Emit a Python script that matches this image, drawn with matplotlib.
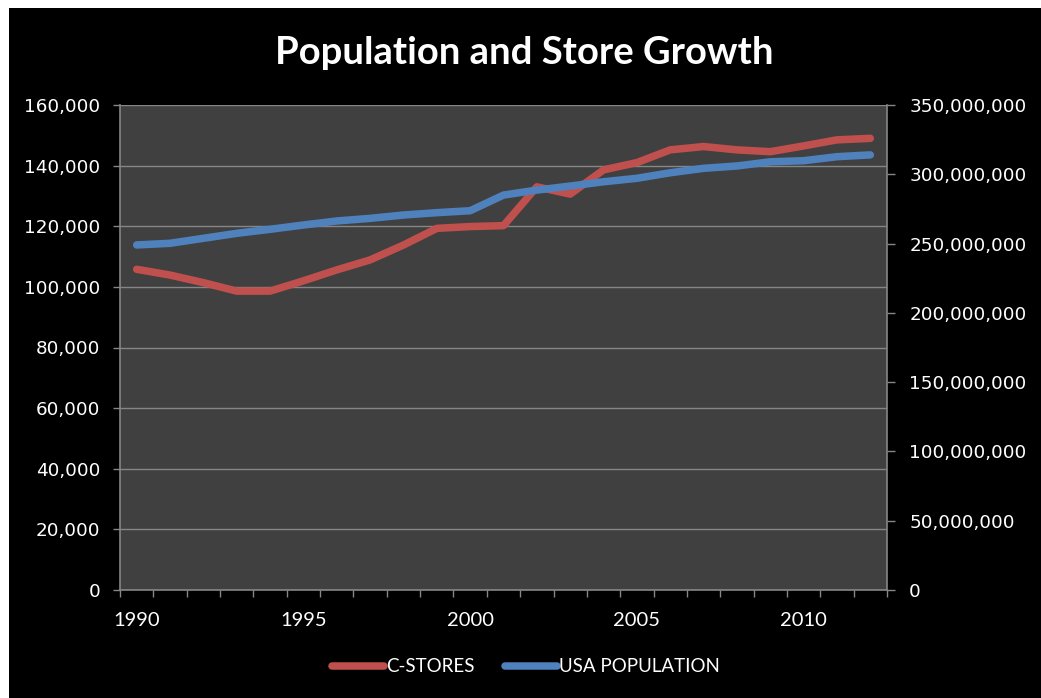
import matplotlib
matplotlib.use("Agg")
import matplotlib.pyplot as plt
from matplotlib.patches import Rectangle
from matplotlib.lines import Line2D
from matplotlib.ticker import FuncFormatter, FixedLocator, NullFormatter

# Data
years = list(range(1990, 2013))
c_stores = [105800, 103900, 101400, 98600, 98600, 102000, 105600, 108900, 113800,
            119300, 119900, 120200, 133000, 130600, 138600, 141000, 145200, 146300,
            145200, 144600, 146500, 148500, 149000]
usa_population = [249.0e6, 250.2e6, 253.8e6, 257.4e6, 260.3e6, 263.4e6, 266.3e6, 268.2e6,
                  270.6e6, 272.3e6, 273.7e6, 285.0e6, 288.6e6, 291.5e6, 294.6e6, 297.1e6,
                  301.1e6, 304.3e6, 306.0e6, 309.0e6, 309.8e6, 312.7e6, 314.0e6]
year_labels = ["1990", "1995", "2000", "2005", "2010"]
left_ticks = list(range(0, 160001, 20000))
right_ticks = list(range(0, 350000001, 50000000))

RED = "#C0504D"
BLUE = "#4F81BD"
GRID = "#868686"
PLOT_BG = "#404040"

W, H = 1041, 698
fig = plt.figure(figsize=(W / 100, H / 100), dpi=100, facecolor="white")
# black chart area behind everything
bg = Rectangle((9 / W, 0), 1 - 9 / W, (H - 8) / H, transform=fig.transFigure,
               facecolor="black", edgecolor="none", zorder=-10)
fig.add_artist(bg)

left, right, top, bottom = 120, 887, 105, 590
ax = fig.add_axes([left / W, (H - bottom) / H, (right - left) / W, (bottom - top) / H])
ax.set_facecolor(PLOT_BG)

x = list(range(len(years)))
ax.plot(x, c_stores, color=RED, lw=5.4, solid_capstyle="round",
        solid_joinstyle="round", zorder=3)
ax.set_xlim(-0.5, len(years) - 0.5)
ax.set_ylim(0, 160000)
ax.set_yticks(left_ticks)
ax.yaxis.set_major_formatter(FuncFormatter(lambda v, p: f"{int(v):,}"))
ax.grid(axis="y", color=GRID, lw=1.0)
ax.set_axisbelow(True)

# category axis: labels every five years, tick marks between categories
label_pos = [years.index(int(y)) for y in year_labels]
ax.xaxis.set_major_locator(FixedLocator(label_pos))
ax.set_xticklabels(year_labels)
ax.xaxis.set_minor_locator(FixedLocator([i - 0.5 for i in range(len(years) + 1)]))
ax.xaxis.set_minor_formatter(NullFormatter())
ax.tick_params(axis="x", which="major", length=0, pad=16, labelcolor="white",
               labelsize=14.5)
ax.tick_params(axis="x", which="minor", length=5, width=1, color=GRID, direction="out")
for lab in ax.get_xticklabels():
    lab.set_fontfamily("Lato")
ax.tick_params(axis="y", length=5, width=1, color=GRID, pad=9, labelcolor="white",
               labelsize=13.2)
for lab in ax.get_yticklabels():
    lab.set_fontfamily("DejaVu Sans")

for s in ["top", "right"]:
    ax.spines[s].set_visible(False)
for s in ["left", "bottom"]:
    ax.spines[s].set_color(GRID)
    ax.spines[s].set_linewidth(1.2)

ax2 = ax.twinx()
ax2.patch.set_visible(False)
ax2.plot(x, usa_population, color=BLUE, lw=5.4, solid_capstyle="round",
         solid_joinstyle="round", zorder=3)
ax2.set_ylim(0, 350000000)
ax2.set_yticks(right_ticks)
ax2.yaxis.set_major_formatter(FuncFormatter(lambda v, p: f"{int(v):,}"))
ax2.tick_params(axis="y", length=6, width=1, color=GRID, pad=10, labelcolor="white",
                labelsize=13.2)
for lab in ax2.get_yticklabels():
    lab.set_fontfamily("DejaVu Sans")
for s in ["top", "left", "bottom"]:
    ax2.spines[s].set_visible(False)
ax2.spines["right"].set_color(GRID)
ax2.spines["right"].set_linewidth(1.2)

fig.text(524 / W, 1 - 53 / H, "Population and Store Growth", ha="center", va="center",
         color="white", fontsize=27.5, fontweight="bold", fontfamily="Lato")

handles = [Line2D([], [], color=RED, lw=5.4, solid_capstyle="round"),
           Line2D([], [], color=BLUE, lw=5.4, solid_capstyle="round")]
leg = fig.legend(handles, ["C-STORES", "USA POPULATION"], loc="center",
                 bbox_to_anchor=(526 / W, 1 - 667 / H), ncol=2, frameon=False,
                 handlelength=2.8, handletextpad=0.1, columnspacing=1.6,
                 prop={"family": "Lato", "size": 13.5})
for t in leg.get_texts():
    t.set_color("white")

fig.savefig("out.png", dpi=100, facecolor="white")
